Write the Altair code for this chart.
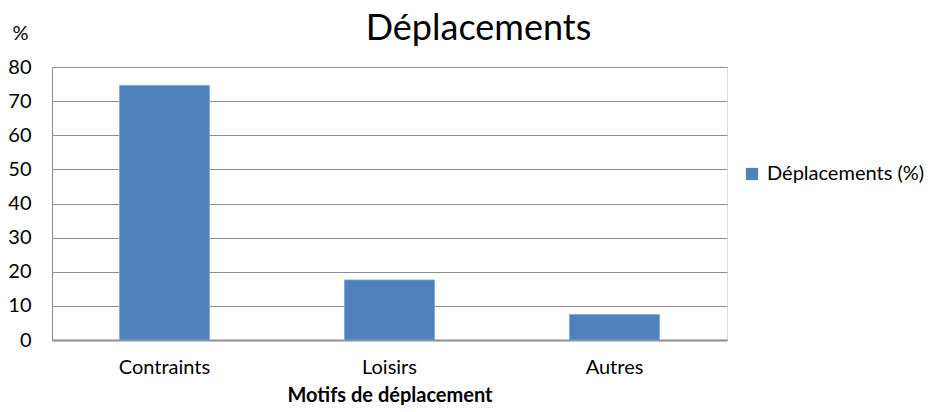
import altair as alt
import pandas as pd

categories = ["Contraints", "Loisirs", "Autres"]
values = [74.6, 17.6, 7.5]
series_name = "Déplacements (%)"

df = pd.DataFrame({"Motif": categories, "Valeur": values, "Serie": [series_name] * 3})

FONT = "Lato"
FS = 20
GRID = "#8c8c8c"

chart = (
    alt.Chart(df)
    .mark_bar(color="#4F81BD", stroke="#7ea6d8", strokeWidth=0.8)
    .encode(
        x=alt.X(
            "Motif:N",
            sort=categories,
            scale=alt.Scale(paddingInner=0.6, paddingOuter=0.3),
            axis=alt.Axis(
                title="Motifs de déplacement",
                titleFont=FONT,
                titleFontSize=FS,
                titleFontWeight="bold",
                titleColor="#000000",
                titlePadding=8,
                labelAngle=0,
                labelFont=FONT,
                labelFontSize=FS,
                labelColor="#000000",
                labelPadding=17,
                ticks=False,
                domainColor=GRID,
                domainWidth=2,
            ),
        ),
        y=alt.Y(
            "Valeur:Q",
            scale=alt.Scale(domain=[0, 80]),
            axis=alt.Axis(
                title="%",
                titleAngle=0,
                titleX=-32,
                titleY=-34,
                titleAlign="center",
                titleBaseline="middle",
                titleFont=FONT,
                titleFontSize=FS,
                titleFontWeight="normal",
                titleColor="#000000",
                values=[0, 10, 20, 30, 40, 50, 60, 70, 80],
                labelFont=FONT,
                labelFontSize=FS,
                labelColor="#000000",
                labelPadding=21,
                ticks=False,
                domainColor=GRID,
                gridColor=GRID,
                gridWidth=1,
                gridOpacity=1,
            ),
        ),
        fill=alt.Fill(
            "Serie:N",
            scale=alt.Scale(range=["#4F81BD"]),
            legend=alt.Legend(
                title=None,
                orient="none",
                legendX=690,
                legendY=97,
                symbolType="square",
                symbolSize=150,
                symbolStrokeWidth=0,
                labelFont=FONT,
                labelFontSize=FS,
                labelColor="#000000",
                labelOffset=5,
            ),
        ),
    )
    .properties(
        width=675,
        height=273,
        autosize=alt.AutoSizeParams(type="none"),
        padding={"left": 44, "top": 59, "right": 201, "bottom": 65},
        title=alt.TitleParams(
            "Déplacements",
            font=FONT,
            fontSize=36,
            fontWeight="normal",
            color="#000000",
            anchor="middle",
            dx=89,
            offset=-25,
        ),
    )
    .configure_view(stroke=GRID, strokeWidth=1)
    .configure(background="#ffffff")
)

chart.save("out.html", embed_options={"renderer": "svg", "actions": False})
